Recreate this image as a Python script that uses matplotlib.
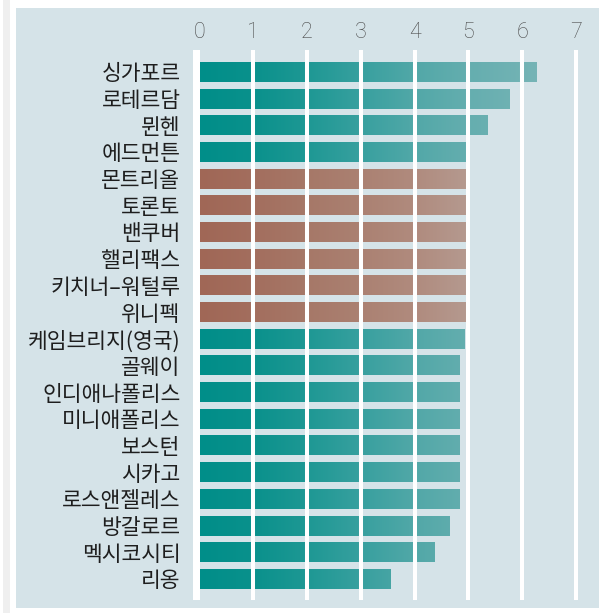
import matplotlib
matplotlib.use('Agg')
import matplotlib.pyplot as plt
import numpy as np
from matplotlib.patches import Rectangle

plt.rcParams['font.family'] = ['Noto Sans CJK KR', 'DejaVu Sans']

# data
cities = ['싱가포르', '로테르담', '뮌헨', '에드먼튼', '몬트리올', '토론토', '밴쿠버',
          '핼리팩스', '키치너–워털루', '위니펙', '케임브리지(영국)', '골웨이',
          '인디애나폴리스', '미니애폴리스', '보스턴', '시카고', '로스앤젤레스',
          '방갈로르', '멕시코시티', '리옹']
values = [6.25, 5.75, 5.35, 5.0, 5.0, 5.0, 5.0, 5.0, 5.0, 5.0,
          4.92, 4.82, 4.82, 4.82, 4.82, 4.82, 4.82, 4.64, 4.35, 3.55]
highlight = [False] * 4 + [True] * 6 + [False] * 10
ticks = [0, 1, 2, 3, 4, 5, 6, 7]

# colour stops along x (value, hex)
teal_stops = [(0, '#008e89'), (1, '#0a918c'), (2, '#1e9894'), (3, '#38a09f'),
              (4, '#52a8a8'), (5, '#65aeaf'), (6.3, '#76b4b6')]
brown_stops = [(0, '#a06756'), (1, '#a36e5e'), (2, '#a67868'), (3, '#ab8172'),
               (4, '#b08b7e'), (5, '#b59a90')]

panel = '#d5e3e8'
W, H = 605, 613


def gradient(stops, n=600, xmax=7.0):
    xs = np.linspace(0, xmax, n)
    sx = [s[0] for s in stops]
    rgb = np.array([matplotlib.colors.to_rgb(s[1]) for s in stops])
    out = np.stack([np.interp(xs, sx, rgb[:, k]) for k in range(3)], axis=-1)
    return out[None, :, :]


fig = plt.figure(figsize=(W / 100, H / 100), dpi=100, facecolor='white')

# card shadow, card and panel behind the axes
fig.patches.append(Rectangle((3 / W, 0), 7 / W, 1, transform=fig.transFigure,
                             facecolor='#efefef', edgecolor='none', zorder=-3))
fig.patches.append(Rectangle((10 / W, 1 - 610 / H), 595 / W, 608 / H, transform=fig.transFigure,
                             facecolor='white', edgecolor='none', zorder=-2))
fig.patches.append(Rectangle((16 / W, 1 - 608 / H), 583 / W, 600 / H, transform=fig.transFigure,
                             facecolor=panel, edgecolor='none', zorder=-1))

unit = 53.8
x0_px = 199.5
xmin = -0.2
xmax = (599 - x0_px) / unit
left = (x0_px + xmin * unit) / W
ax = fig.add_axes([left, 1 - 600 / H, 599 / W - left, 550 / H])
ax.set_facecolor('none')

y = np.arange(len(cities))
h = 0.75
bars = ax.barh(y, values, height=h, color='none', edgecolor='none')
for b, v, yy, hl in zip(bars, values, y, highlight):
    img = gradient(brown_stops if hl else teal_stops)
    im = ax.imshow(img, extent=(0, 7.0, yy + h / 2, yy - h / 2), aspect='auto',
                   interpolation='bilinear', zorder=2)
    im.set_clip_path(b)

# white grid lines drawn over the bars
for t in ticks[1:]:
    ax.axvline(t, color='white', lw=2.9, zorder=4)
ax.axvspan(-0.13, 0.0, color='white', lw=0, zorder=4)

ax.set_xlim(xmin, xmax)
ax.set_ylim(len(cities) - 1 + 0.79, -0.82)
ax.xaxis.tick_top()
ax.set_xticks(ticks)
ax.set_xticklabels([str(t) for t in ticks], family=['Roboto', 'DejaVu Sans'],
                   fontweight='light', fontsize=15.5, color='#4a4a4a')
ax.set_yticks(y)
ax.set_yticklabels(cities, fontsize=15.5, color='#1e1e1e')
ax.tick_params(axis='x', length=0, pad=5)
ax.tick_params(axis='y', length=0, pad=6)
for s in ax.spines.values():
    s.set_visible(False)

fig.savefig('out.png', dpi=100, facecolor=fig.get_facecolor())
